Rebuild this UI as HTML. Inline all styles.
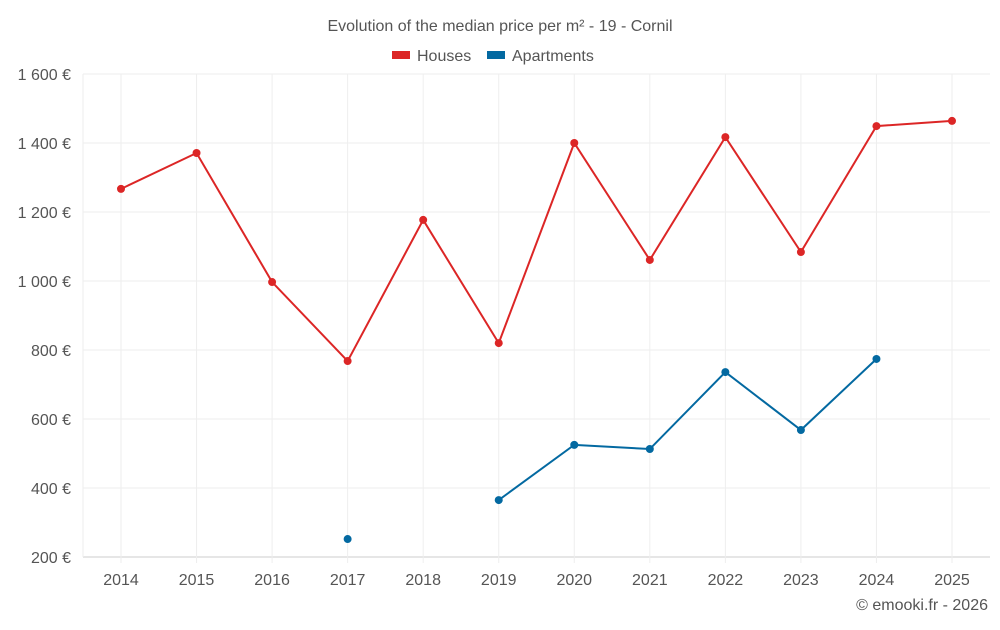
<!DOCTYPE html>
<html><head><meta charset="utf-8"><style>
body{margin:0;background:#fff;font-family:"Liberation Sans",sans-serif;}
svg text{font-family:"Liberation Sans",sans-serif;}
</style></head><body>
<svg id="chart" width="1000" height="625">
<text x="500" y="31" text-anchor="middle" font-size="16" fill="#555">Evolution of the median price per m² - 19 - Cornil</text>
<g><rect x="392" y="51" width="18" height="8" fill="#dc2626"/><text x="417" y="61" font-size="16" fill="#555">Houses</text></g>
<g><rect x="487" y="51" width="18" height="8" fill="#0369a1"/><text x="512" y="61" font-size="16" fill="#555">Apartments</text></g>
<g id="grid"></g><g id="axes"></g><g id="series"></g>
<text x="988" y="610" text-anchor="end" font-size="16" fill="#555">© emooki.fr - 2026</text>
</svg>
<script>
const years=[2014,2015,2016,2017,2018,2019,2020,2021,2022,2023,2024,2025];
const houses=[1267,1371,997,768,1177,820,1400,1061,1417,1084,1449,1464];
const apartments=[null,null,null,252,null,365,525,513,736,568,774,null];
const yTicks=[200,400,600,800,1000,1200,1400,1600];
const yLabels=["200 €","400 €","600 €","800 €","1 000 €","1 200 €","1 400 €","1 600 €"];
const L=83,R=990,T=74,B=557;
const x=i=>121+i*(952-121)/(years.length-1);
const y=v=>B-(v-200)/1400*(B-T);
const NS="http://www.w3.org/2000/svg";
function mk(tag,attrs,parent){const e=document.createElementNS(NS,tag);for(const k in attrs)e.setAttribute(k,attrs[k]);parent.appendChild(e);return e;}
const grid=document.getElementById('grid'),axes=document.getElementById('axes'),ser=document.getElementById('series');
yTicks.forEach((v,i)=>{
  const ln=mk('line',{x1:L,x2:R,y1:y(v),y2:y(v),stroke:i==0?'#ccc':'#eee'},grid);
  
  
  const t=mk('text',{x:71,y:y(v)+6,'text-anchor':'end','font-size':16,fill:'#555'},axes);
  t.textContent=yLabels[i];
  
  
});
mk('line',{x1:L,x2:L,y1:T,y2:B,stroke:'#eee'},grid);
years.forEach((yr,i)=>{
  const ln=mk('line',{x1:x(i),x2:x(i),y1:T,y2:B+6,stroke:'#eee'},grid);
  
  
  const t=mk('text',{x:x(i),y:585,'text-anchor':'middle','font-size':16,fill:'#555'},axes);
  t.textContent=yr;
  
  
});
function draw(data,color,name){
  let seg=[];const segs=[];
  data.forEach((v,i)=>{if(v==null){if(seg.length)segs.push(seg);seg=[];}else seg.push([x(i),y(v)]);});
  if(seg.length)segs.push(seg);
  segs.forEach(s=>{if(s.length>1){const p=mk('polyline',{points:s.map(q=>q.join(',')).join(' '),fill:'none',stroke:color,'stroke-width':2},ser);
    
    }});
  data.forEach((v,i)=>{if(v==null)return;const c=mk('circle',{cx:x(i),cy:y(v),r:4,fill:color},ser);
    
    });
}
draw(houses,'#dc2626','houses');
draw(apartments,'#0369a1','apartments');
</script>
</body></html>
